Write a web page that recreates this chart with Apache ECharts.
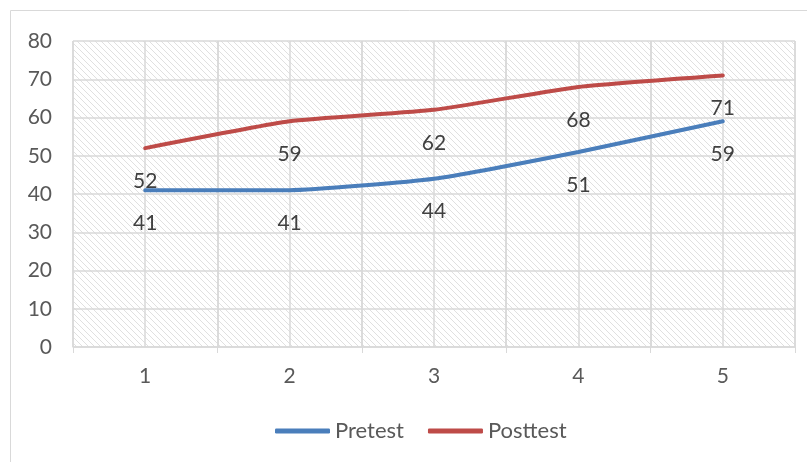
<!DOCTYPE html>
<html><head><meta charset="utf-8">
<script src="https://cdn.jsdelivr.net/npm/echarts@6/dist/echarts.min.js"></script>
<style>html,body{margin:0;padding:0;background:#fff}#c{width:807px;height:462px}</style>
</head><body><div id="c"></div>
<script>
const categories = ['1','2','3','4','5'];
const pretest = [41, 41, 44, 51, 59];
const posttest = [52, 59, 62, 68, 71];
const seriesNames = ['Pretest','Posttest'];

const tile = document.createElement('canvas');
tile.width = 6; tile.height = 6;
const tc = tile.getContext('2d');
tc.fillStyle = '#ffffff'; tc.fillRect(0,0,6,6);
tc.strokeStyle = '#e0e0e0'; tc.lineWidth = 1;
tc.beginPath();
tc.moveTo(-1,-1); tc.lineTo(7,7);
tc.moveTo(-7,-1); tc.lineTo(1,7);
tc.moveTo(5,-1); tc.lineTo(13,7);
tc.stroke();

const font = 'Lato, "Open Sans", sans-serif';
const chart = echarts.init(document.getElementById('c'), null, {renderer:'canvas'});
chart.setOption({
  animation:false,
  graphic:[{type:'rect', shape:{x:10.5,y:10.5,width:830,height:480}, style:{fill:'none',stroke:'#d9d9d9',lineWidth:1}, silent:true}],
  grid:{left:73,right:12,top:41,bottom:115,show:true,borderWidth:0,backgroundColor:{image:tile,repeat:'repeat'}},
  legend:{bottom:15,left:270,itemWidth:55,itemHeight:5,itemGap:24,icon:'roundRect',
    itemStyle:{opacity:1},
    textStyle:{fontFamily:font,fontSize:22,color:'#595959'},
    data:[{name:seriesNames[0],itemStyle:{color:'#4A7EBB',opacity:1}},{name:seriesNames[1],itemStyle:{color:'#BE4B48',opacity:1}}]},
  xAxis:[{type:'category',data:categories,boundaryGap:true,
    axisLine:{lineStyle:{color:'#d9d9d9',width:1.5}},
    axisTick:{show:true,length:6,lineStyle:{color:'#d9d9d9'}},
    axisLabel:{fontFamily:font,fontSize:21,color:'#595959',margin:19},
    splitLine:{show:true,lineStyle:{color:'#d9d9d9',width:1.5}}},
   {type:'value',min:0,max:10,interval:1,position:'bottom',
    axisLine:{show:false},axisTick:{show:false},axisLabel:{show:false},
    splitLine:{show:true,lineStyle:{color:'#d9d9d9',width:1.5}}}],
  yAxis:{type:'value',min:0,max:80,interval:10,
    axisLine:{show:false},axisTick:{show:false},
    axisLabel:{fontFamily:font,fontSize:21,color:'#595959',margin:21},
    splitLine:{lineStyle:{color:'#d9d9d9',width:1.5}}},
  series:[
    {name:seriesNames[0],type:'line',data:pretest,smooth:0.15,symbol:'circle',symbolSize:1,showSymbol:true,
     lineStyle:{color:'#4A7EBB',width:4,cap:'round'},itemStyle:{color:'#4A7EBB',opacity:0},
     label:{show:true,position:'bottom',distance:22,fontFamily:font,fontSize:21,color:'#404040',opacity:1}},
    {name:seriesNames[1],type:'line',data:posttest,smooth:0.15,symbol:'circle',symbolSize:1,showSymbol:true,
     lineStyle:{color:'#BE4B48',width:4,cap:'round'},itemStyle:{color:'#BE4B48',opacity:0},
     label:{show:true,position:'bottom',distance:22,fontFamily:font,fontSize:21,color:'#404040',opacity:1}}
  ]
});
</script></body></html>
